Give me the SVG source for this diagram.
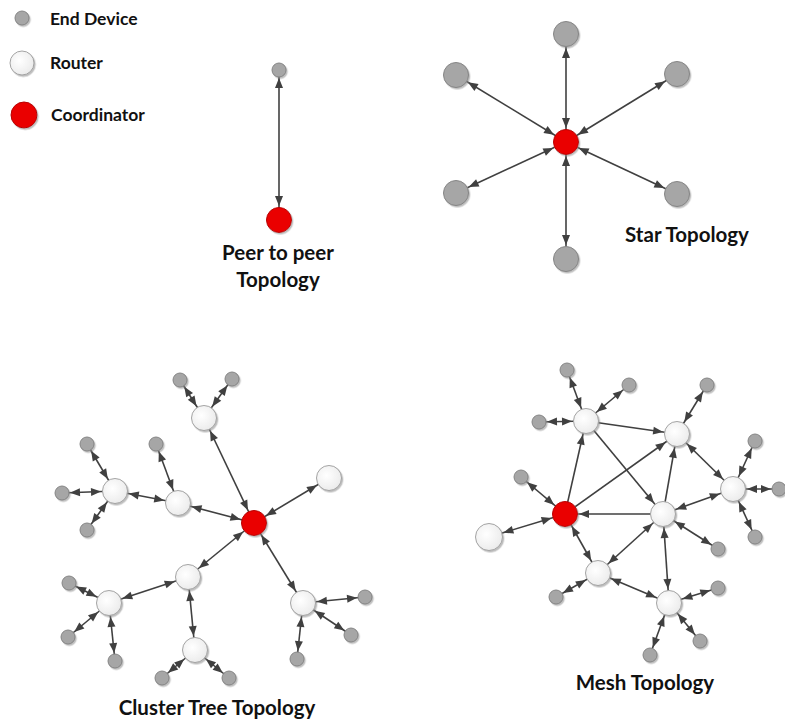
<svg xmlns="http://www.w3.org/2000/svg" width="785" height="720" viewBox="0 0 785 720">
<defs>
<style>
.c{stroke:#404040;stroke-width:1.6;fill:none}
.e{fill:#a6a6a6;stroke:#858585;stroke-width:1;filter:url(#sh)}
.r{fill:url(#rg);stroke:#a3a3a3;stroke-width:1;filter:url(#sh)}
.k{fill:#ea0000;stroke:#b80000;stroke-width:1;filter:url(#sh)}
.t{font-family:Lato,"Liberation Sans",sans-serif;font-weight:700;fill:#111}
.lg{font-size:17.5px}
.tt{font-size:20.5px;text-anchor:middle}
</style>
<radialGradient id="rg" cx="0.4" cy="0.4" r="0.7">
<stop offset="0" stop-color="#ffffff"/>
<stop offset="1" stop-color="#e9e9e9"/>
</radialGradient>
<filter id="sh" x="-30%" y="-30%" width="170%" height="170%">
<feDropShadow dx="1.3" dy="1.5" stdDeviation="0.7" flood-color="#888" flood-opacity="0.55"/>
</filter>
<marker id="m7" markerUnits="userSpaceOnUse" markerWidth="11" markerHeight="9" refX="18" refY="4" orient="auto-start-reverse" overflow="visible"><path d="M0,0 L10,4 L0,8 z" fill="#404040"/></marker>
<marker id="m13" markerUnits="userSpaceOnUse" markerWidth="11" markerHeight="9" refX="24" refY="4" orient="auto-start-reverse" overflow="visible"><path d="M0,0 L10,4 L0,8 z" fill="#404040"/></marker>
<marker id="m14" markerUnits="userSpaceOnUse" markerWidth="11" markerHeight="9" refX="25" refY="4" orient="auto-start-reverse" overflow="visible"><path d="M0,0 L10,4 L0,8 z" fill="#404040"/></marker>
</defs>
<rect width="785" height="720" fill="#ffffff"/>

<g id="connectors">
<!-- peer to peer -->
<line class="c" x1="279" y1="70" x2="279" y2="220" marker-start="url(#m7)" marker-end="url(#m13)"/>
<!-- star -->
<line class="c" x1="566" y1="142" x2="566" y2="34" marker-start="url(#m13)" marker-end="url(#m13)"/>
<line class="c" x1="566" y1="142" x2="456" y2="75" marker-start="url(#m13)" marker-end="url(#m13)"/>
<line class="c" x1="566" y1="142" x2="677" y2="74" marker-start="url(#m13)" marker-end="url(#m13)"/>
<line class="c" x1="566" y1="142" x2="456" y2="193" marker-start="url(#m13)" marker-end="url(#m13)"/>
<line class="c" x1="566" y1="142" x2="677" y2="194" marker-start="url(#m13)" marker-end="url(#m13)"/>
<line class="c" x1="566" y1="142" x2="566" y2="259" marker-start="url(#m13)" marker-end="url(#m13)"/>
<!-- cluster tree -->
<line class="c" x1="254" y1="523" x2="204" y2="418" marker-start="url(#m13)" marker-end="url(#m13)"/>
<line class="c" x1="254" y1="523" x2="329" y2="478" marker-start="url(#m13)" marker-end="url(#m13)"/>
<line class="c" x1="254" y1="523" x2="178" y2="503" marker-start="url(#m13)" marker-end="url(#m13)"/>
<line class="c" x1="254" y1="523" x2="188" y2="577" marker-start="url(#m13)" marker-end="url(#m13)"/>
<line class="c" x1="254" y1="523" x2="303" y2="603" marker-start="url(#m13)" marker-end="url(#m13)"/>
<line class="c" x1="204" y1="418" x2="180" y2="380" marker-start="url(#m13)" marker-end="url(#m7)"/>
<line class="c" x1="204" y1="418" x2="232" y2="379" marker-start="url(#m13)" marker-end="url(#m7)"/>
<line class="c" x1="178" y1="503" x2="156" y2="444" marker-start="url(#m13)" marker-end="url(#m7)"/>
<line class="c" x1="178" y1="503" x2="115" y2="491" marker-start="url(#m13)" marker-end="url(#m13)"/>
<line class="c" x1="115" y1="491" x2="87" y2="444" marker-start="url(#m13)" marker-end="url(#m7)"/>
<line class="c" x1="115" y1="491" x2="62" y2="493" marker-start="url(#m13)" marker-end="url(#m7)"/>
<line class="c" x1="115" y1="491" x2="87" y2="530" marker-start="url(#m13)" marker-end="url(#m7)"/>
<line class="c" x1="188" y1="577" x2="109" y2="603" marker-start="url(#m13)" marker-end="url(#m13)"/>
<line class="c" x1="188" y1="577" x2="195" y2="650" marker-start="url(#m13)" marker-end="url(#m13)"/>
<line class="c" x1="109" y1="603" x2="69" y2="583" marker-start="url(#m13)" marker-end="url(#m7)"/>
<line class="c" x1="109" y1="603" x2="68" y2="637" marker-start="url(#m13)" marker-end="url(#m7)"/>
<line class="c" x1="109" y1="603" x2="115" y2="661" marker-start="url(#m13)" marker-end="url(#m7)"/>
<line class="c" x1="195" y1="650" x2="162" y2="678" marker-start="url(#m13)" marker-end="url(#m7)"/>
<line class="c" x1="195" y1="650" x2="229" y2="678" marker-start="url(#m13)" marker-end="url(#m7)"/>
<line class="c" x1="303" y1="603" x2="365" y2="597" marker-start="url(#m13)" marker-end="url(#m7)"/>
<line class="c" x1="303" y1="603" x2="351" y2="635" marker-start="url(#m13)" marker-end="url(#m7)"/>
<line class="c" x1="303" y1="603" x2="297" y2="659" marker-start="url(#m13)" marker-end="url(#m7)"/>
<!-- mesh -->
<line class="c" x1="565" y1="514" x2="489" y2="537" marker-start="url(#m13)" marker-end="url(#m14)"/>
<line class="c" x1="565" y1="514" x2="521" y2="477" marker-start="url(#m13)" marker-end="url(#m7)"/>
<line class="c" x1="565" y1="514" x2="586" y2="421" marker-end="url(#m13)"/>
<line class="c" x1="565" y1="514" x2="677" y2="434" marker-end="url(#m13)"/>
<line class="c" x1="663" y1="514" x2="565" y2="514" marker-end="url(#m13)"/>
<line class="c" x1="586" y1="421" x2="677" y2="434" marker-end="url(#m13)"/>
<line class="c" x1="586" y1="421" x2="663" y2="514" marker-end="url(#m13)"/>
<line class="c" x1="663" y1="514" x2="677" y2="434" marker-end="url(#m13)"/>
<line class="c" x1="677" y1="434" x2="733" y2="489" marker-start="url(#m13)" marker-end="url(#m13)"/>
<line class="c" x1="733" y1="489" x2="663" y2="514" marker-start="url(#m13)" marker-end="url(#m13)"/>
<line class="c" x1="565" y1="514" x2="598" y2="573" marker-start="url(#m13)" marker-end="url(#m13)"/>
<line class="c" x1="663" y1="514" x2="598" y2="573" marker-start="url(#m13)" marker-end="url(#m13)"/>
<line class="c" x1="663" y1="514" x2="669" y2="603" marker-start="url(#m13)" marker-end="url(#m13)"/>
<line class="c" x1="598" y1="573" x2="669" y2="603" marker-start="url(#m13)" marker-end="url(#m13)"/>
<line class="c" x1="663" y1="514" x2="718" y2="549" marker-start="url(#m13)" marker-end="url(#m7)"/>
<line class="c" x1="586" y1="421" x2="567" y2="370" marker-start="url(#m13)" marker-end="url(#m7)"/>
<line class="c" x1="586" y1="421" x2="629" y2="385" marker-start="url(#m13)" marker-end="url(#m7)"/>
<line class="c" x1="586" y1="421" x2="539" y2="422" marker-start="url(#m13)" marker-end="url(#m7)"/>
<line class="c" x1="677" y1="434" x2="707" y2="385" marker-start="url(#m13)" marker-end="url(#m7)"/>
<line class="c" x1="733" y1="489" x2="755" y2="441" marker-start="url(#m13)" marker-end="url(#m7)"/>
<line class="c" x1="733" y1="489" x2="779" y2="489" marker-start="url(#m13)" marker-end="url(#m7)"/>
<line class="c" x1="733" y1="489" x2="755" y2="537" marker-start="url(#m13)" marker-end="url(#m7)"/>
<line class="c" x1="598" y1="573" x2="556" y2="597" marker-start="url(#m13)" marker-end="url(#m7)"/>
<line class="c" x1="669" y1="603" x2="718" y2="588" marker-start="url(#m13)" marker-end="url(#m7)"/>
<line class="c" x1="669" y1="603" x2="700" y2="641" marker-start="url(#m13)" marker-end="url(#m7)"/>
<line class="c" x1="669" y1="603" x2="650" y2="655" marker-start="url(#m13)" marker-end="url(#m7)"/>
</g>

<g id="legend">
<g id="legend-end-device"><circle class="e" cx="22" cy="18" r="7"/><text class="t lg" x="50" y="25">End Device</text></g>
<g id="legend-router"><circle class="r" cx="22" cy="63" r="12"/><text class="t lg" x="50" y="69">Router</text></g>
<g id="legend-coordinator"><circle class="k" cx="24" cy="115" r="13"/><text class="t lg" x="51" y="121">Coordinator</text></g>
</g>

<g id="peer">
<g id="p-end"><circle class="e" cx="279" cy="70" r="7"/></g>
<g id="p-coord"><circle class="k" cx="279" cy="220" r="12.5"/></g>
<g id="p-label"><text class="t tt" x="278" y="260">Peer to peer</text><text class="t tt" x="278" y="287">Topology</text></g>
</g>

<g id="star">
<g id="s-coord"><circle class="k" cx="566" cy="142" r="12.5"/></g>
<g id="s-e1"><circle class="e" cx="566" cy="34" r="12.5"/></g>
<g id="s-e2"><circle class="e" cx="456" cy="75" r="12.5"/></g>
<g id="s-e3"><circle class="e" cx="677" cy="74" r="12.5"/></g>
<g id="s-e4"><circle class="e" cx="456" cy="193" r="12.5"/></g>
<g id="s-e5"><circle class="e" cx="677" cy="194" r="12.5"/></g>
<g id="s-e6"><circle class="e" cx="566" cy="259" r="12.5"/></g>
<g id="s-label"><text class="t tt" x="687" y="242">Star Topology</text></g>
</g>

<g id="cluster">
<g id="c-coord"><circle class="k" cx="254" cy="523" r="12.5"/></g>
<g id="c-r1"><circle class="r" cx="204" cy="418" r="12.5"/></g>
<g id="c-r2"><circle class="r" cx="329" cy="478" r="12.5"/></g>
<g id="c-r3"><circle class="r" cx="178" cy="503" r="12.5"/></g>
<g id="c-r4"><circle class="r" cx="115" cy="491" r="12.5"/></g>
<g id="c-r5"><circle class="r" cx="188" cy="577" r="12.5"/></g>
<g id="c-r6"><circle class="r" cx="109" cy="603" r="12.5"/></g>
<g id="c-r7"><circle class="r" cx="195" cy="650" r="12.5"/></g>
<g id="c-r8"><circle class="r" cx="303" cy="603" r="12.5"/></g>
<g id="c-e1"><circle class="e" cx="180" cy="380" r="7"/></g>
<g id="c-e2"><circle class="e" cx="232" cy="379" r="7"/></g>
<g id="c-e3"><circle class="e" cx="156" cy="444" r="7"/></g>
<g id="c-e4"><circle class="e" cx="87" cy="444" r="7"/></g>
<g id="c-e5"><circle class="e" cx="62" cy="493" r="7"/></g>
<g id="c-e6"><circle class="e" cx="87" cy="530" r="7"/></g>
<g id="c-e7"><circle class="e" cx="69" cy="583" r="7"/></g>
<g id="c-e8"><circle class="e" cx="68" cy="637" r="7"/></g>
<g id="c-e9"><circle class="e" cx="115" cy="661" r="7"/></g>
<g id="c-e10"><circle class="e" cx="162" cy="678" r="7"/></g>
<g id="c-e11"><circle class="e" cx="229" cy="678" r="7"/></g>
<g id="c-e12"><circle class="e" cx="365" cy="597" r="7"/></g>
<g id="c-e13"><circle class="e" cx="351" cy="635" r="7"/></g>
<g id="c-e14"><circle class="e" cx="297" cy="659" r="7"/></g>
<g id="c-label"><text class="t tt" x="217" y="715">Cluster Tree Topology</text></g>
</g>

<g id="mesh">
<g id="m-coord"><circle class="k" cx="565" cy="514" r="12.5"/></g>
<g id="m-r0"><circle class="r" cx="489" cy="537" r="13.5"/></g>
<g id="m-rA"><circle class="r" cx="586" cy="421" r="12.5"/></g>
<g id="m-rB"><circle class="r" cx="677" cy="434" r="12.5"/></g>
<g id="m-rC"><circle class="r" cx="733" cy="489" r="12.5"/></g>
<g id="m-rD"><circle class="r" cx="663" cy="514" r="12.5"/></g>
<g id="m-rE"><circle class="r" cx="598" cy="573" r="12.5"/></g>
<g id="m-rF"><circle class="r" cx="669" cy="603" r="12.5"/></g>
<g id="m-e1"><circle class="e" cx="521" cy="477" r="7"/></g>
<g id="m-e2"><circle class="e" cx="567" cy="370" r="7"/></g>
<g id="m-e3"><circle class="e" cx="629" cy="385" r="7"/></g>
<g id="m-e4"><circle class="e" cx="539" cy="422" r="7"/></g>
<g id="m-e5"><circle class="e" cx="707" cy="385" r="7"/></g>
<g id="m-e6"><circle class="e" cx="755" cy="441" r="7"/></g>
<g id="m-e7"><circle class="e" cx="779" cy="489" r="7"/></g>
<g id="m-e8"><circle class="e" cx="755" cy="537" r="7"/></g>
<g id="m-e9"><circle class="e" cx="718" cy="549" r="7"/></g>
<g id="m-e10"><circle class="e" cx="556" cy="597" r="7"/></g>
<g id="m-e11"><circle class="e" cx="718" cy="588" r="7"/></g>
<g id="m-e12"><circle class="e" cx="700" cy="641" r="7"/></g>
<g id="m-e13"><circle class="e" cx="650" cy="655" r="7"/></g>
<g id="m-label"><text class="t tt" x="645" y="690">Mesh Topology</text></g>
</g>
</svg>
